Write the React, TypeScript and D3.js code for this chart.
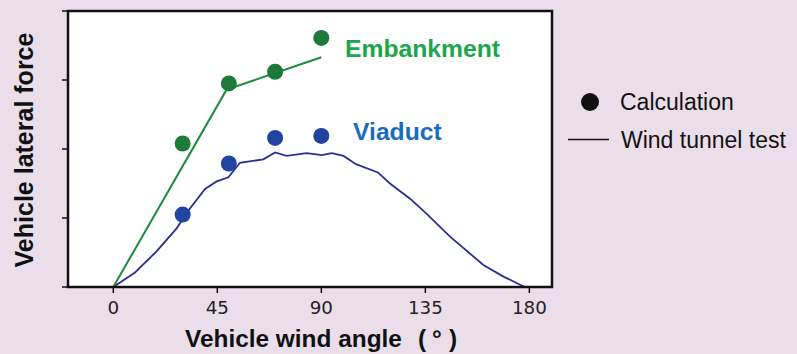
import React from "react";
import * as d3 from "d3";

const xTicks = [0, 45, 90, 135, 180];
const yTicks = [0, 1, 2, 3, 4];

const calcAngles = [30, 50, 70, 90];
const embankmentCalc = [2.08, 2.95, 3.12, 3.61];
const viaductCalc = [1.05, 1.79, 2.16, 2.19];

const embankmentTestAngles = [0, 49, 90];
const embankmentTest = [0, 2.86, 3.33];

const viaductTestAngles = [0, 9.4, 18.8, 27.4, 33, 39.7, 44.7, 49.8, 54.8, 64.9, 70, 75, 83.7, 90.2, 94.5, 99.6, 105, 114.5, 119.7, 128.4, 135.6, 145.7, 160.1, 168.8, 178];
const viaductTest = [0, 0.21, 0.52, 0.85, 1.13, 1.42, 1.53, 1.59, 1.8, 1.85, 1.95, 1.9, 1.94, 1.91, 1.94, 1.9, 1.78, 1.66, 1.5, 1.28, 1.06, 0.73, 0.32, 0.15, 0];

const W = 797;
const H = 354;
const left = 68, right = 552, top = 11, bottom = 287;

export default function App() {
  const x = d3.scaleLinear().domain([-19.6, 189.8]).range([left, right]);
  const y = d3.scaleLinear().domain([0, 4]).range([bottom, top]);
  const line = d3.line<[number, number]>().x(d => x(d[0])).y(d => y(d[1]));
  const embLine = line(embankmentTestAngles.map((a, i) => [a, embankmentTest[i]]));
  const viaLine = line(viaductTestAngles.map((a, i) => [a, viaductTest[i]]));
  const font = "'Liberation Sans', Arial, sans-serif";
  return (
    <svg width={W} height={H} style={{ position: "absolute", left: 0, top: 0, display: "block" }}>
      <rect x={0} y={0} width={W} height={H} fill="#ebdeeb" />
      <rect x={left} y={top} width={right - left} height={bottom - top} fill="#ffffff" />
      <defs>
        <clipPath id="plotclip">
          <rect x={left} y={top} width={right - left} height={bottom - top} />
        </clipPath>
      </defs>
      <g clipPath="url(#plotclip)">
        <path d={viaLine || ""} fill="none" stroke="#2b2f95" strokeWidth={1.8} />
        <path d={embLine || ""} fill="none" stroke="#1e8a3e" strokeWidth={2} />
      </g>
      {calcAngles.map((a, i) => (
        <circle key={"e" + i} cx={x(a)} cy={y(embankmentCalc[i])} r={8} fill="#1d7a3a" />
      ))}
      {calcAngles.map((a, i) => (
        <circle key={"v" + i} cx={x(a)} cy={y(viaductCalc[i])} r={8} fill="#1f44a2" />
      ))}
      <rect x={left} y={top} width={right - left} height={bottom - top} fill="none" stroke="#111" strokeWidth={2.5} />
      {yTicks.map(t => (
        <line key={"yt" + t} x1={left - 6} x2={left} y1={y(t)} y2={y(t)} stroke="#111" strokeWidth={1.5} />
      ))}
      {xTicks.map(t => (
        <g key={"xt" + t}>
          <line x1={x(t)} x2={x(t)} y1={bottom} y2={bottom + 6} stroke="#111" strokeWidth={1.5} />
          <text x={x(t)} y={314} textAnchor="middle" fontFamily="'DejaVu Sans', sans-serif" fontSize={18.3} fill="#222">{t}</text>
        </g>
      ))}
      <text x={345} y={57} fontFamily={font} fontWeight="bold" fontSize={24.7} fill="#1ca64a">Embankment</text>
      <text x={353} y={140} fontFamily={font} fontWeight="bold" fontSize={24.7} fill="#1a6cc0">Viaduct</text>
      <circle cx={590} cy={102} r={9} fill="#111" />
      <text x={620} y={110} fontFamily={font} fontSize={23} fill="#111">Calculation</text>
      <line x1={568} x2={609} y1={139.5} y2={139.5} stroke="#111" strokeWidth={1.5} />
      <text x={621} y={148} fontFamily={font} fontSize={23} fill="#111">Wind tunnel test</text>
      <text transform="translate(33,150) rotate(-90)" textAnchor="middle" fontFamily={font} fontWeight="bold" fontSize={25} fill="#111">Vehicle lateral force</text>
      <text x={185} y={347} fontFamily={font} fontWeight="bold" fontSize={24.4} fill="#111">
        Vehicle wind angle<tspan x={418}>(</tspan><tspan x={432}>°</tspan><tspan x={449}>)</tspan>
      </text>
    </svg>
  );
}
